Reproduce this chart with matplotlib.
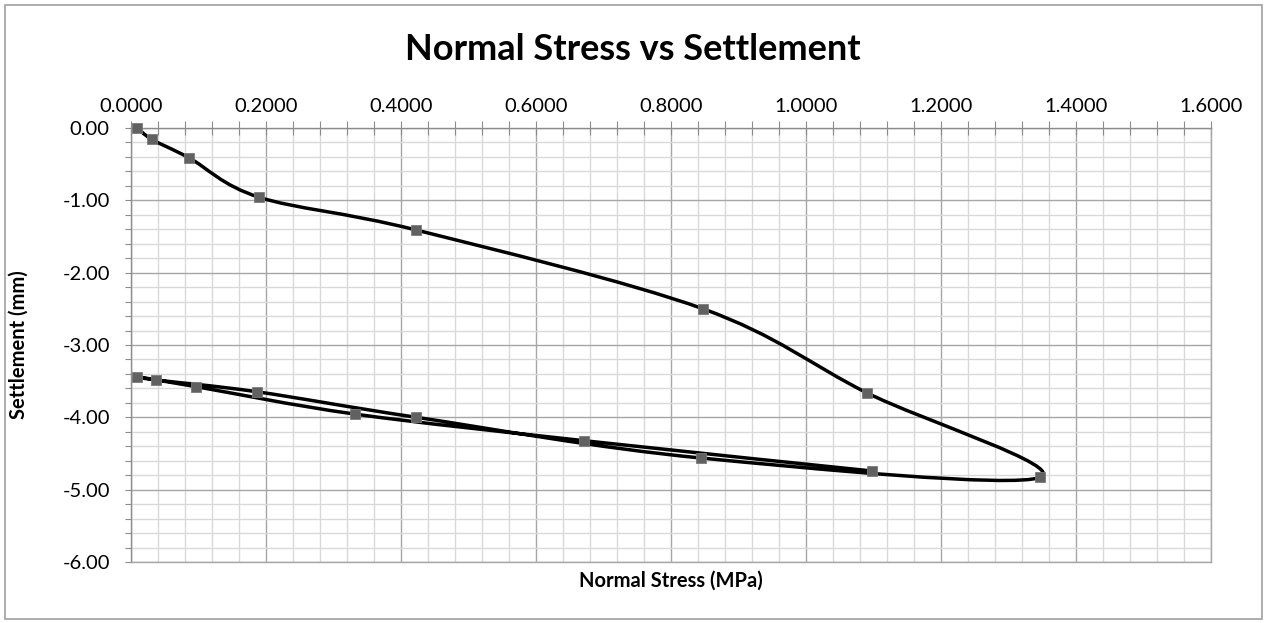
import matplotlib
matplotlib.use("Agg")
import matplotlib.pyplot as plt
import numpy as np
from matplotlib.patches import PathPatch, Rectangle
from matplotlib.path import Path
from matplotlib.ticker import MultipleLocator, FormatStrFormatter

plt.rcParams["font.family"] = ["Lato", "DejaVu Sans"]

# normal stress (MPa) and settlement (mm) per stage
stress_load = [0.0098, 0.0311, 0.0868, 0.1905, 0.4226, 0.8472, 1.0900, 1.3467]
settle_load = [0.000, -0.160, -0.418, -0.961, -1.412, -2.499, -3.659, -4.827]
stress_unload = [0.8446, 0.4230, 0.1866, 0.0375, 0.0098]
settle_unload = [-4.560, -3.998, -3.645, -3.483, -3.438]
stress_reload = [0.0972, 0.3315, 0.6714, 1.0984]
settle_reload = [-3.576, -3.953, -4.321, -4.740]

TITLE = "Normal Stress vs Settlement"
XLABEL = "Normal Stress (MPa)"
YLABEL = "Settlement (mm)"


def smooth_path(xs, ys, k=1 / 6):
    """Cubic Bezier through every point (spreadsheet style smoothed line)."""
    pts = np.column_stack([xs, ys])
    n = len(pts)
    verts = [pts[0]]
    codes = [Path.MOVETO]
    for i in range(n - 1):
        p0 = pts[max(i - 1, 0)]
        p1 = pts[i]
        p2 = pts[i + 1]
        p3 = pts[min(i + 2, n - 1)]
        verts += [p1 + (p2 - p0) * k, p2 - (p3 - p1) * k, p2]
        codes += [Path.CURVE4] * 3
    return Path(verts, codes)


stress = np.array(stress_load + stress_unload + stress_reload)
settle = np.array(settle_load + settle_unload + settle_reload)

W, H = 1266, 623
fig = plt.figure(figsize=(W / 100, H / 100), dpi=100)
ax = fig.add_axes([130.7 / W, 1 - 562.3 / H, (1211 - 130.7) / W, (562.3 - 127.7) / H])

ax.set_xlim(0, 1.6)
ax.set_ylim(-6, 0)
ax.xaxis.set_major_locator(MultipleLocator(0.2))
ax.xaxis.set_minor_locator(MultipleLocator(0.04))
ax.yaxis.set_major_locator(MultipleLocator(1.0))
ax.yaxis.set_minor_locator(MultipleLocator(0.2))
ax.xaxis.set_major_formatter(FormatStrFormatter("%.4f"))
ax.yaxis.set_major_formatter(FormatStrFormatter("%.2f"))
ax.xaxis.set_ticks_position("top")
ax.xaxis.set_label_position("top")

ax.grid(which="major", color="#a6a6a6", lw=1.0, zorder=0)
ax.grid(which="minor", color="#d9d9d9", lw=1.0, zorder=0)
ax.set_axisbelow(True)

for side in ("left", "top"):
    ax.spines[side].set_color("#8c8c8c")
    ax.spines[side].set_linewidth(1.0)
for side in ("right", "bottom"):
    ax.spines[side].set_color("#a6a6a6")
    ax.spines[side].set_linewidth(1.0)

ax.tick_params(axis="x", which="both", direction="inout", length=10, width=0.8,
               color="#8c8c8c", pad=4, labelsize=14.5)
ax.tick_params(axis="y", which="both", direction="out", length=4, width=0.8,
               color="#8c8c8c", pad=11, labelsize=14.5)

curve = PathPatch(smooth_path(stress, settle), facecolor="none",
                  edgecolor="black", lw=2.5, zorder=3, capstyle="round",
                  joinstyle="round")
curve.set_clip_on(False)
ax.add_patch(curve)
ax.plot(stress, settle, ls="none", marker="s", ms=6.5, mfc="#616161",
        mec="#7a7a7a", mew=0.6, zorder=4, clip_on=False)

fig.text(633 / W, 1 - 49 / H, TITLE, ha="center", va="center",
         fontsize=26, fontweight="bold")
fig.text(671 / W, 1 - 581 / H, XLABEL, ha="center", va="center",
         fontsize=14.5, fontweight="bold")
fig.text(19 / W, 1 - 345 / H, YLABEL, ha="center", va="center",
         rotation=90, fontsize=14.5, fontweight="bold")

fig.add_artist(Rectangle((5 / W, 4 / H), 1257 / W, 614 / H,
                         transform=fig.transFigure, fill=False,
                         edgecolor="#a0a0a0", lw=1.2))

fig.savefig("out.png", dpi=100)
